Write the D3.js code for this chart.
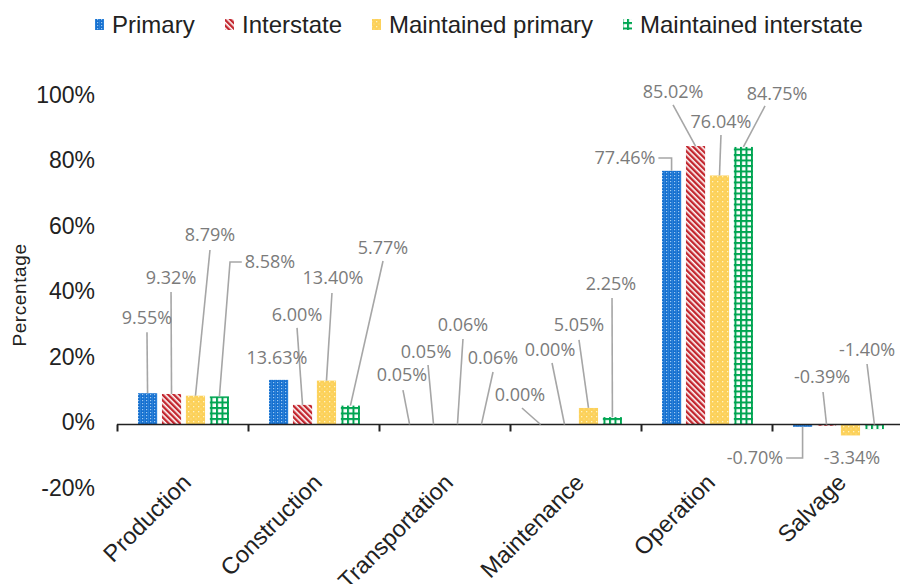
<!DOCTYPE html>
<html>
<head>
<meta charset="utf-8">
<script src="https://cdn.jsdelivr.net/npm/d3@7"></script>
<style>
  html, body { margin: 0; padding: 0; background: #fff; }
  svg { display: block; }
</style>
</head>
<body>
<svg id="chart" width="900" height="584"></svg>
<script>
// Life-cycle stages on the x axis
const categories = ["Production", "Construction", "Transportation", "Maintenance", "Operation", "Salvage"];
const seriesNames = ["Primary", "Interstate", "Maintained primary", "Maintained interstate"];

// Share of total per stage (%)
const primary              = [9.55, 13.63, 0.05, 0.00, 77.46, -0.70];
const interstate           = [9.32, 6.00, 0.05, 0.00, 85.02, -0.39];
const maintainedPrimary    = [8.79, 13.40, 0.06, 5.05, 76.04, -3.34];
const maintainedInterstate = [8.58, 5.77, 0.06, 2.25, 84.75, -1.40];

const yTicks = [-20, 0, 20, 40, 60, 80, 100];

// Data-callout placement: [dx, dy, leaderX, leaderY, elbow] relative to the bar end
const calloutPrimary = [
  [-0.6, -76, -0.6, -61], [-1.6, -22], [-7.6, -49.3, -6.6, -34.3],
  [-20.6, -29.5, -18.6, -16.5], [-46.6, -12.8, 0, -12.8, true], [-47.6, 31.2, 0, 31.2, true]
];
const calloutInterstate = [
  [-0.5, -116, -0.5, -102], [-5.5, -90, -5.5, -77], [-7.5, -72.3, -5.5, -59.3],
  [-14.5, -74.5, -12.5, -61.5], [-22.5, -54.1, -22.5, -41.1], [-4.5, -47.5, -3.5, -32.5]
];
const calloutMaintainedPrimary = [
  [14.5, -160.7, 14.5, -145.7], [6.5, -102.6, 5.5, -87.6], [5.5, -99.3, 5.5, -85.3],
  [-9.5, -83, -9.5, -68], [1.5, -53.5, 1.5, -40.5], [1.5, 22.6]
];
const calloutMaintainedInterstate = [
  [50.6, -134.4, 10.6, -134.4, true], [32.6, -157.6, 32.6, -144.6], [11.6, -66.3, 11.6, -52.3],
  [-1.4, -133.1, -0.4, -119.1], [33.6, -53, 21.6, -41], [-7.4, -74.5, -7.4, -60.5]
];

// Legend item left edges
const legendX = [95, 225, 372, 623];

const seriesValues = [primary, interstate, maintainedPrimary, maintainedInterstate];
const callouts = [calloutPrimary, calloutInterstate, calloutMaintainedPrimary, calloutMaintainedInterstate];
const patternIds = ["pat-primary", "pat-interstate", "pat-mprimary", "pat-minterstate"];

const svg = d3.select("#chart");
const defs = svg.append("defs");

// Fill patterns
{
  const p = defs.append("pattern").attr("id", "pat-primary").attr("patternUnits", "userSpaceOnUse")
    .attr("width", 4).attr("height", 3);
  p.append("rect").attr("width", 4).attr("height", 3).attr("fill", "#1670cf");
  p.append("rect").attr("x", 1).attr("y", 1).attr("width", 1.2).attr("height", 1.2).attr("fill", "#9cc8f2");
  p.append("rect").attr("x", 3).attr("y", 0).attr("width", 0.8).attr("height", 3).attr("fill", "#2d84dc");
}
{
  const p = defs.append("pattern").attr("id", "pat-interstate").attr("patternUnits", "userSpaceOnUse")
    .attr("width", 4).attr("height", 4).attr("patternTransform", "rotate(-45)");
  p.append("rect").attr("width", 4).attr("height", 4).attr("fill", "#fff");
  p.append("rect").attr("width", 2.4).attr("height", 4).attr("fill", "#c3262e");
}
{
  const p = defs.append("pattern").attr("id", "pat-mprimary").attr("patternUnits", "userSpaceOnUse")
    .attr("width", 5).attr("height", 5);
  p.append("rect").attr("width", 5).attr("height", 5).attr("fill", "#fcd15a");
  p.append("rect").attr("x", 1).attr("y", 1).attr("width", 1.3).attr("height", 1.3).attr("fill", "#fff3c4");
  p.append("rect").attr("x", 3.5).attr("y", 3.5).attr("width", 1).attr("height", 1).attr("fill", "#fde49a");
}
{
  const p = defs.append("pattern").attr("id", "pat-minterstate").attr("patternUnits", "userSpaceOnUse")
    .attr("width", 5.5).attr("height", 5.5);
  p.append("rect").attr("width", 5.5).attr("height", 5.5).attr("fill", "#fff");
  p.append("rect").attr("x", 0).attr("y", 0).attr("width", 2).attr("height", 5.5).attr("fill", "#00a552");
  p.append("rect").attr("x", 0).attr("y", 0).attr("width", 5.5).attr("height", 2).attr("fill", "#00a552");
}

// Scales
const x0 = d3.scaleBand().domain(categories).range([117, 903]).paddingInner(0).paddingOuter(0);
const x1 = d3.scaleBand().domain(seriesNames).range([21, 112]).paddingInner(0.2).paddingOuter(0);
const y = d3.scaleLinear().domain([-20, 100]).range([490, 97]);

const axisFont = "'Liberation Sans', Arial, sans-serif";
const labelFont = "'Open Sans', 'Noto Sans', sans-serif";

// Y tick labels (no axis line)
svg.append("g").selectAll("text").data(yTicks).join("text")
  .attr("x", 95)
  .attr("y", d => y(d) - 2.5)
  .attr("dy", "0.35em")
  .attr("text-anchor", "end")
  .attr("font-family", axisFont)
  .attr("font-size", 23)
  .attr("fill", "#222")
  .text(d => d + "%");

// Y axis title
svg.append("text")
  .attr("transform", "translate(26,295) rotate(-90)")
  .attr("text-anchor", "middle")
  .attr("font-family", axisFont)
  .attr("font-size", 19)
  .attr("letter-spacing", 0.6)
  .attr("fill", "#222")
  .text("Percentage");

// Bars
const groups = svg.append("g").selectAll("g").data(categories).join("g")
  .attr("transform", d => `translate(${x0(d)},0)`);

groups.selectAll("rect")
  .data((c, ci) => seriesNames.map((s, si) => ({ s, si, v: seriesValues[si][ci] })))
  .join("rect")
  .attr("x", d => x1(d.s))
  .attr("width", x1.bandwidth())
  .attr("y", d => y(Math.max(0, d.v)))
  .attr("height", d => Math.abs(y(d.v) - y(0)))
  .attr("fill", d => `url(#${patternIds[d.si]})`);

// X axis line and boundary ticks
const axisG = svg.append("g").attr("transform", `translate(0,${y(0)})`);
const xAxis = d3.axisBottom(d3.scaleLinear().domain([0, categories.length]).range([117, 903]))
  .ticks(categories.length).tickSize(7).tickFormat("");
axisG.call(xAxis);
axisG.select(".domain").attr("stroke", "#222").attr("stroke-width", 1.6).attr("d", "M117,0H903");
axisG.selectAll(".tick line").attr("stroke", "#222").attr("stroke-width", 2);

// Category labels
svg.append("g").selectAll("text").data(categories).join("text")
  .attr("transform", d => `translate(${x0(d) + x0.bandwidth() / 2 + 10},484) rotate(-45)`)
  .attr("text-anchor", "end")
  .attr("font-family", axisFont)
  .attr("font-size", 23.5)
  .attr("fill", "#222")
  .text(d => d);

// Data callouts with leader lines
const calloutG = svg.append("g");
categories.forEach((c, ci) => {
  seriesNames.forEach((s, si) => {
    const v = seriesValues[si][ci];
    const cfg = callouts[si][ci];
    const bx = x0(c) + x1(s) + x1.bandwidth() / 2;
    const above = cfg[1] < 0;
    const by = above ? y(Math.max(0, v)) : y(Math.min(0, v));
    const tx = bx + cfg[0], ty = by + cfg[1];
    const txt = calloutG.append("text")
      .attr("x", tx).attr("y", ty).attr("dy", "0.35em")
      .attr("text-anchor", "middle")
      .attr("font-family", labelFont)
      .attr("font-size", 18)
      .attr("fill", "#7b7b7b")
      .text(v.toFixed(2) + "%");
    if (cfg.length >= 4) {
      const kx = bx + cfg[2], ky = by + cfg[3];
      let d;
      if (cfg[4]) {
        const w = txt.node().getComputedTextLength();
        const edge = kx > tx ? tx + w / 2 + 3 : tx - w / 2 - 3;
        d = `M${edge},${ky}L${kx},${ky}L${bx},${by}`;
      } else {
        d = `M${kx},${ky}L${bx},${by}`;
      }
      calloutG.insert("path", "text").attr("d", d)
        .attr("fill", "none").attr("stroke", "#a6a6a6").attr("stroke-width", 1.6);
    }
  });
});

// Legend
const legend = svg.append("g");
seriesNames.forEach((s, si) => {
  legend.append("rect").attr("x", legendX[si]).attr("y", 19).attr("width", 9).attr("height", 11)
    .attr("fill", `url(#${patternIds[si]})`);
  legend.append("text")
    .attr("x", legendX[si] + 17).attr("y", 25).attr("dy", "0.35em")
    .attr("font-family", axisFont).attr("font-size", 24).attr("fill", "#222")
    .text(s);
});
</script>
</body>
</html>
